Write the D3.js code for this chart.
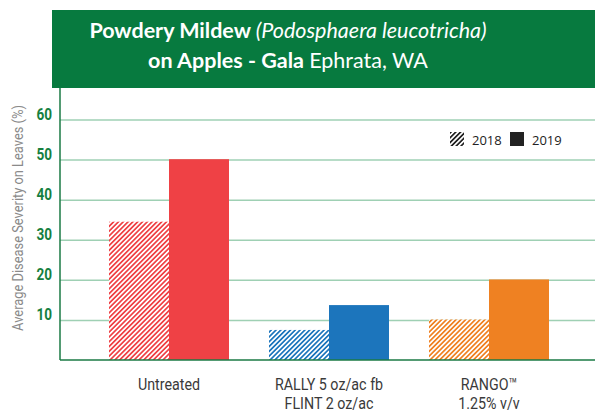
<!DOCTYPE html>
<html>
<head>
<meta charset="utf-8">
<script src="https://cdn.jsdelivr.net/npm/d3@7"></script>
<style>
  body { margin: 0; background: #fff; }
  svg { display: block; }
</style>
</head>
<body>
<div id="grafico"></div>
<script>
const categories = ["Untreated", "RALLY 5 oz/ac fb\nFLINT 2 oz/ac", "RANGO™\n1.25% v/v"];
const years = ["2018", "2019"];
const values2018 = [34.5, 7.5, 10.1];
const values2019 = [50.1, 13.7, 20.1];
const yTicks = [10, 20, 30, 40, 50, 60];
const barColors = ["#ef4145", "#1c75bc", "#ef8122"];

const width = 595, height = 414;
const svg = d3.select("#grafico").append("svg")
    .attr("width", width)
    .attr("height", height);

const defs = svg.append("defs");
// hatch patterns, one per colour plus black for legend
barColors.concat(["#222"]).forEach((c, i) => {
    const p = defs.append("pattern")
        .attr("id", "hatch" + i)
        .attr("patternUnits", "userSpaceOnUse")
        .attr("width", 3.4)
        .attr("height", 3.4)
        .attr("patternTransform", "rotate(45)");
    p.append("rect").attr("width", 3.4).attr("height", 3.4).attr("fill", "#fff");
    p.append("rect").attr("width", 1.7).attr("height", 3.4).attr("fill", c);
});

const x = d3.scaleBand().domain(categories).range([89, 569]);
const xInner = d3.scaleBand().domain(years).range([20, 140]);
const y = d3.scaleLinear().domain([0, 60]).range([360, 119.5]);

// header
svg.append("rect")
    .attr("x", 52).attr("y", 10)
    .attr("width", width - 52).attr("height", 78)
    .attr("fill", "#077a3f");

const title1 = svg.append("text")
    .attr("x", 288).attr("y", 38)
    .attr("text-anchor", "middle")
    .attr("fill", "#fff")
    .style("font-family", "Lato, 'Open Sans', sans-serif")
    .style("font-size", "21.5px");
title1.append("tspan").attr("font-weight", "bold").text("Powdery Mildew ");
title1.append("tspan").attr("font-style", "italic").text("(Podosphaera leucotricha)");

const title2 = svg.append("text")
    .attr("x", 288).attr("y", 68)
    .attr("text-anchor", "middle")
    .attr("fill", "#fff")
    .style("font-family", "Lato, 'Open Sans', sans-serif")
    .style("font-size", "21.5px");
title2.append("tspan").attr("font-weight", "bold").text("on Apples - Gala ");
title2.append("tspan").text(" Ephrata, WA");

// gridlines + y tick labels
const yAxis = svg.append("g")
    .attr("transform", "translate(60,0)")
    .call(d3.axisLeft(y).tickValues(yTicks).tickSize(-(width - 60)).tickFormat(d3.format("d")));
yAxis.select(".domain").remove();
yAxis.selectAll(".tick line")
    .attr("stroke", "#9fd0b4")
    .attr("stroke-width", 1.5);
// condensed look: squeeze the labels horizontally
yAxis.selectAll(".tick text")
    .attr("x", 0)
    .attr("dy", "-0.02em")
    .attr("transform", "translate(-8,0) scale(0.8,1)")
    .attr("fill", "#16803f")
    .style("font-family", "Roboto, sans-serif")
    .style("font-weight", "bold")
    .style("font-size", "17px");

// bars
const groups = svg.selectAll(".grupo")
    .data(categories)
    .enter()
    .append("g")
    .attr("class", "grupo")
    .attr("transform", d => `translate(${x(d)},0)`);

groups.append("rect")
    .attr("x", xInner("2018"))
    .attr("y", (d, i) => y(values2018[i]))
    .attr("width", xInner.bandwidth())
    .attr("height", (d, i) => y(0) - y(values2018[i]))
    .attr("fill", (d, i) => `url(#hatch${i})`);

groups.append("rect")
    .attr("x", xInner("2019"))
    .attr("y", (d, i) => y(values2019[i]))
    .attr("width", xInner.bandwidth())
    .attr("height", (d, i) => y(0) - y(values2019[i]))
    .attr("fill", (d, i) => barColors[i]);

// axis lines
svg.append("line")
    .attr("x1", 60).attr("x2", 60)
    .attr("y1", 88).attr("y2", 360)
    .attr("stroke", "#1a7a45").attr("stroke-width", 1.5);
svg.append("line")
    .attr("x1", 60).attr("x2", width)
    .attr("y1", 360).attr("y2", 360)
    .attr("stroke", "#1a7a45").attr("stroke-width", 1.5);

// x labels
const xLabels = svg.selectAll(".xlabel")
    .data(categories)
    .enter()
    .append("g")
    .attr("class", "xlabel")
    .attr("transform", d => `translate(${x(d) + x.bandwidth() / 2},390) scale(0.84,1)`)
    .append("text")
    .attr("text-anchor", "middle")
    .attr("fill", "#3a3a3a")
    .style("font-family", "Roboto, sans-serif")
    .style("font-size", "17px");
xLabels.each(function (d) {
    d.split("\n").forEach((line, i) => {
        d3.select(this).append("tspan")
            .attr("x", 0)
            .attr("dy", i === 0 ? 0 : 19.5)
            .text(line);
    });
});

// y title, squeezed to the reference length
const yTitleG = svg.append("g");
const yTitle = yTitleG.append("text")
    .attr("text-anchor", "middle")
    .attr("fill", "#8a8a8a")
    .style("font-family", "Roboto, sans-serif")
    .style("font-size", "15.5px")
    .text("Average Disease Severity on Leaves (%)");
const largo = yTitle.node().getComputedTextLength();
yTitleG.attr("transform", `translate(23,218) rotate(-90) scale(${226 / largo},1)`);

// legend
const legend = svg.append("g");
legend.append("rect")
    .attr("x", 450).attr("y", 132).attr("width", 14).attr("height", 14)
    .attr("fill", "url(#hatch3)");
legend.append("text")
    .attr("x", 472).attr("y", 145)
    .attr("fill", "#222")
    .style("font-family", "'Open Sans', sans-serif")
    .style("font-size", "13px")
    .text(years[0]);
legend.append("rect")
    .attr("x", 510).attr("y", 132).attr("width", 14).attr("height", 14)
    .attr("fill", "#222");
legend.append("text")
    .attr("x", 532).attr("y", 145)
    .attr("fill", "#222")
    .style("font-family", "'Open Sans', sans-serif")
    .style("font-size", "13px")
    .text(years[1]);
</script>
</body>
</html>
